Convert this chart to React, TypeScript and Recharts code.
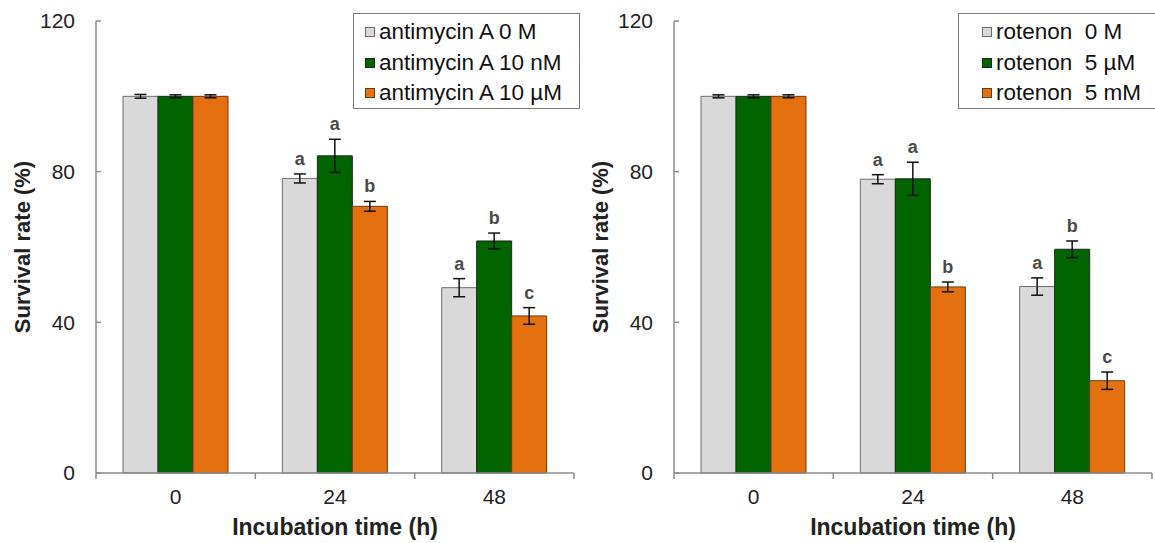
import React from 'react';
import { BarChart, Bar, XAxis, YAxis, ErrorBar, LabelList, Legend } from 'recharts';

const FONT = '"Liberation Sans", Arial, Helvetica, sans-serif';

// shared axes
const times = ['0', '24', '48'];
const yTicks = [0, 40, 80, 120];

// colours per dose (control, low, high)
const fills = ['#d9d9d9', '#006400', '#e5700f'];
const strokes = ['#6e6e6e', '#1c2a1c', '#6b3a10'];

// antimycin A panel
const antiNames = ['antimycin A 0 M', 'antimycin A 10 nM', 'antimycin A 10 µM'];
const anti0 = [100, 78.2, 49.2];
const anti0Err = [0.5, 1.2, 2.4];
const anti0Let = ['', 'a', 'a'];
const antiLow = [100, 84.2, 61.6];
const antiLowErr = [0.4, 4.4, 2.1];
const antiLowLet = ['', 'a', 'b'];
const antiHigh = [100, 70.8, 41.7];
const antiHighErr = [0.4, 1.3, 2.2];
const antiHighLet = ['', 'b', 'c'];

// rotenon panel
const rotNames = ['rotenon  0 M', 'rotenon  5 µM', 'rotenon  5 mM'];
const rot0 = [100, 78.0, 49.5];
const rot0Err = [0.4, 1.2, 2.3];
const rot0Let = ['', 'a', 'a'];
const rotLow = [100, 78.1, 59.4];
const rotLowErr = [0.4, 4.4, 2.2];
const rotLowLet = ['', 'a', 'b'];
const rotHigh = [100, 49.4, 24.5];
const rotHighErr = [0.4, 1.3, 2.3];
const rotHighLet = ['', 'b', 'c'];

type Series = { vals: number[]; errs: number[]; lets: string[] };

const buildRows = (series: Series[]) =>
  times.map((t, i) => {
    const row: Record<string, any> = { time: t };
    series.forEach((s, k) => {
      row[`v${k}`] = s.vals[i];
      row[`e${k}`] = s.errs[i];
      row[`l${k}`] = s.lets[i];
    });
    return row;
  });

const letterContent = (s: Series) => (p: any) => {
  const vb = p.viewBox || {};
  const x = p.x ?? vb.x;
  const y = p.y ?? vb.y;
  const width = p.width ?? vb.width;
  const height = p.height ?? vb.height;
  const idx = p.index;
  const val = p.value;
  if (!val || idx == null) return null;
  const errPx = (s.errs[idx] / s.vals[idx]) * Math.abs(height);
  return (
    <text
      x={x + width / 2}
      y={y - errPx - 9}
      textAnchor="middle"
      fontSize={18}
      fontWeight="bold"
      fill="#4a4a4a"
      fontFamily={FONT}
    >
      {val}
    </text>
  );
};

// category label plus tick marks on the band edges
const TimeTick = (p: any) => {
  const { x, y, payload, index } = p;
  const half = payload?.offset ?? 0;
  const axisY = y - 15;
  return (
    <g>
      <line x1={x - half} x2={x - half} y1={axisY} y2={axisY + 6} stroke="#8c8c8c" strokeWidth={1.5} />
      {index === times.length - 1 && (
        <line x1={x + half} x2={x + half} y1={axisY} y2={axisY + 6} stroke="#8c8c8c" strokeWidth={1.5} />
      )}
      <text x={x} y={y + 16} textAnchor="middle" fontSize={21} fill="#222" fontFamily={FONT}>
        {payload.value}
      </text>
    </g>
  );
};

type PanelProps = {
  names: string[];
  series: Series[];
  width: number;
  marginLeft: number;
  legendLeft: number;
  legendPad: number;
  legendWidth: number;
};

function Panel({ names, series, width, marginLeft, legendLeft, legendPad, legendWidth }: PanelProps) {
  const data = buildRows(series);

  const renderLegend = () => (
    <div
      style={{
        border: '1.5px solid #7a7a7a',
        background: '#fff',
        width: legendWidth,
        height: 96,
        boxSizing: 'border-box',
        paddingTop: 3,
        paddingLeft: legendPad,
        fontFamily: FONT,
        fontSize: 22.5,
        color: '#111',
      }}
    >
      {names.map((n, k) => (
        <div key={n} style={{ display: 'flex', alignItems: 'center', height: 30.5, whiteSpace: 'pre' }}>
          <span
            style={{
              display: 'inline-block',
              width: 8,
              height: 8,
              background: fills[k],
              border: `1px solid ${strokes[k]}`,
              marginRight: 4,
            }}
          />
          {n}
        </div>
      ))}
    </div>
  );

  return (
    <BarChart
      width={width}
      height={543}
      data={data}
      margin={{ top: 21, right: width - marginLeft - 80 - 478, left: marginLeft, bottom: 0 }}
      barCategoryGap={27}
      barGap={0}
    >
      <XAxis
        dataKey="time"
        height={70}
        stroke="#8c8c8c"
        strokeWidth={1.5}
        tickLine={false}
        tickSize={0}
        tickMargin={15}
        tick={<TimeTick />}
        interval={0}
        label={{
          value: 'Incubation time (h)',
          position: 'insideBottom',
          offset: 8,
          style: { fontSize: 23, fontWeight: 'bold', fill: '#222', fontFamily: FONT },
        }}
      />
      <YAxis
        domain={[0, 120]}
        ticks={yTicks}
        width={80}
        stroke="#8c8c8c"
        strokeWidth={1.5}
        tickSize={-5}
        tickMargin={26}
        tick={{ fontSize: 21, fill: '#222', fontFamily: FONT }}
        label={{
          value: 'Survival rate (%)',
          angle: -90,
          position: 'insideLeft',
          offset: 6,
          style: { textAnchor: 'middle', fontSize: 22, fontWeight: 'bold', fill: '#222', fontFamily: FONT },
        }}
      />
      <Legend
        layout="vertical"
        align="center"
        verticalAlign="middle"
        content={renderLegend}
        wrapperStyle={{ top: 13, left: legendLeft, width: legendWidth, height: 96 }}
      />
      {series.map((s, k) => (
        <Bar
          key={k}
          dataKey={`v${k}`}
          name={names[k]}
          fill={fills[k]}
          stroke={strokes[k]}
          strokeWidth={1}
          isAnimationActive={false}
        >
          <ErrorBar dataKey={`e${k}`} width={6} stroke="#111" strokeWidth={1.5} isAnimationActive={false} />
          <LabelList dataKey={`l${k}`} content={letterContent(s)} />
        </Bar>
      ))}
    </BarChart>
  );
}

export default function App() {
  const antiSeries: Series[] = [
    { vals: anti0, errs: anti0Err, lets: anti0Let },
    { vals: antiLow, errs: antiLowErr, lets: antiLowLet },
    { vals: antiHigh, errs: antiHighErr, lets: antiHighLet },
  ];
  const rotSeries: Series[] = [
    { vals: rot0, errs: rot0Err, lets: rot0Let },
    { vals: rotLow, errs: rotLowErr, lets: rotLowLet },
    { vals: rotHigh, errs: rotHighErr, lets: rotHighLet },
  ];
  return (
    <div
      style={{
        position: 'absolute',
        left: 0,
        top: 0,
        width: 1155,
        height: 543,
        overflow: 'hidden',
        background: '#fff',
        display: 'flex',
      }}
    >
      <Panel
        names={antiNames}
        series={antiSeries}
        width={580}
        marginLeft={16}
        legendLeft={353}
        legendPad={11}
        legendWidth={227}
      />
      <Panel
        names={rotNames}
        series={rotSeries}
        width={575}
        marginLeft={14}
        legendLeft={378}
        legendPad={23}
        legendWidth={240}
      />
    </div>
  );
}
